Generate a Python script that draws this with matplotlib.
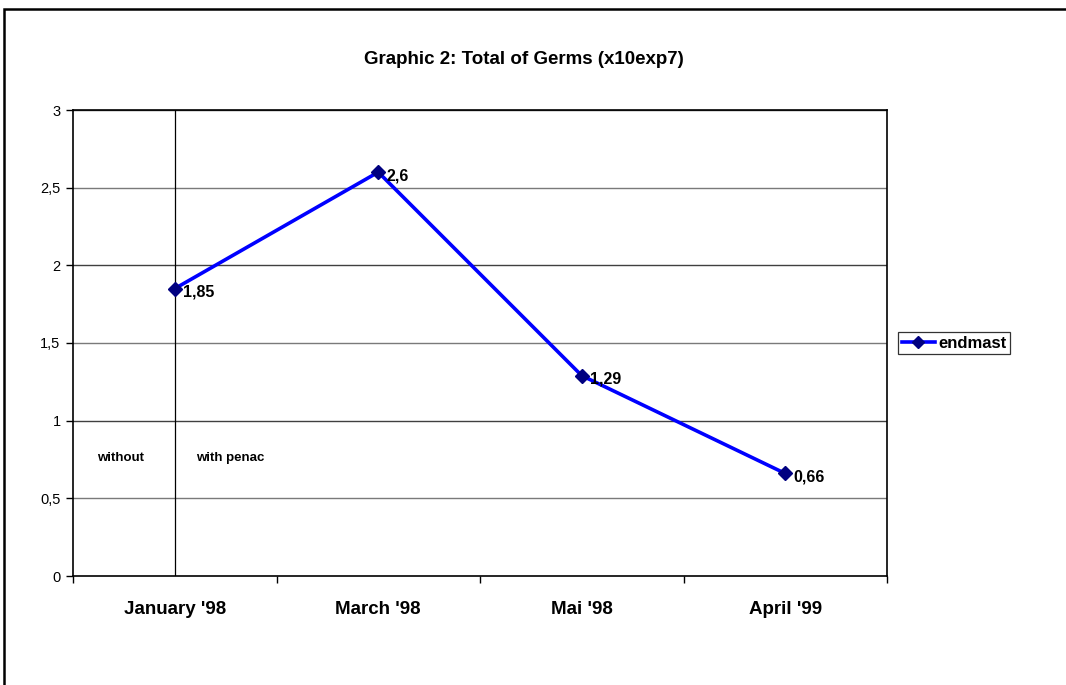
import matplotlib
matplotlib.use("Agg")
import matplotlib.pyplot as plt
from matplotlib.patches import Rectangle
from matplotlib.lines import Line2D

plt.rcParams['font.family'] = ['Liberation Sans', 'DejaVu Sans']

months = ["January '98", "March '98", "Mai '98", "April '99"]
germs = [1.85, 2.6, 1.29, 0.66]
value_labels = ["1,85", "2,6", "1,29", "0,66"]
y_ticks = [0, 0.5, 1, 1.5, 2, 2.5, 3]
y_tick_labels = ["0", "0,5", "1", "1,5", "2", "2,5", "3"]

fig = plt.figure(figsize=(10.66, 6.85), dpi=100)
ax = fig.add_axes([73 / 1066, 109 / 685, 814 / 1066, 466 / 685])

# outer chart frame (runs off the right and bottom edges)
fig.patches.append(Rectangle((4 / 1066, -0.2), 1.2, 1.2 - 9 / 685,
                             transform=fig.transFigure, fill=False,
                             edgecolor='black', linewidth=1.8, zorder=0))

xs = [i + 0.5 for i in range(len(months))]

# horizontal grid
for i, y in enumerate(y_ticks[1:]):
    ax.axhline(y, color='#7a7a7a' if i % 2 == 0 else '#404040', linewidth=1.0, zorder=1)

# separator between "without" and "with penac"
ax.axvline(xs[0], color='black', linewidth=0.9, zorder=1)

ax.plot(xs, germs, color='#0000ff', linewidth=2.6, marker='D', markersize=7,
        markerfacecolor='#000080', markeredgecolor='#000080', zorder=3)

for x, y, lab in zip(xs, germs, value_labels):
    ax.annotate(lab, (x, y), xytext=(6, -2.5), textcoords='offset points',
                ha='left', va='center', fontsize=11.5, fontweight='bold')

ax.text(0.12, 0.76, "without", ha='left', va='center', fontsize=9.5, fontweight='bold')
ax.text(0.605, 0.76, "with penac", ha='left', va='center', fontsize=9.5, fontweight='bold')

ax.set_xlim(0, len(months))
ax.set_ylim(0, 3)
ax.set_xticks(range(len(months) + 1))
ax.set_xticklabels([])
ax.set_xticks(xs, minor=True)
ax.set_xticklabels(months, minor=True, fontsize=13.5, fontweight='bold')
ax.tick_params(axis='x', which='minor', length=0, pad=18)
ax.tick_params(axis='x', which='major', length=5, direction='out', width=1)
ax.set_yticks(y_ticks)
ax.set_yticklabels(y_tick_labels, fontsize=10.5)
ax.tick_params(axis='y', length=5, direction='out', width=1, pad=4)

for s in ax.spines.values():
    s.set_linewidth(1.2)
    s.set_color('black')

fig.text(524 / 1066, 1 - 60 / 685, "Graphic 2: Total of Germs (x10exp7)",
         ha='center', va='center', fontsize=13.5, fontweight='bold')

handle = Line2D([], [], color='#0000ff', linewidth=2.6, marker='D', markersize=6,
                markerfacecolor='#000080', markeredgecolor='#000080')
leg = fig.legend([handle], ["endmast"], loc='center left', bbox_to_anchor=(890 / 1066, 1 - 343 / 685),
                 frameon=True, fancybox=False, edgecolor='black', handlelength=2.0,
                 handletextpad=0.2, borderpad=0.2, prop={'weight': 'bold', 'size': 12})
leg.get_frame().set_linewidth(0.9)

fig.savefig("out.png", dpi=100, facecolor='white')
